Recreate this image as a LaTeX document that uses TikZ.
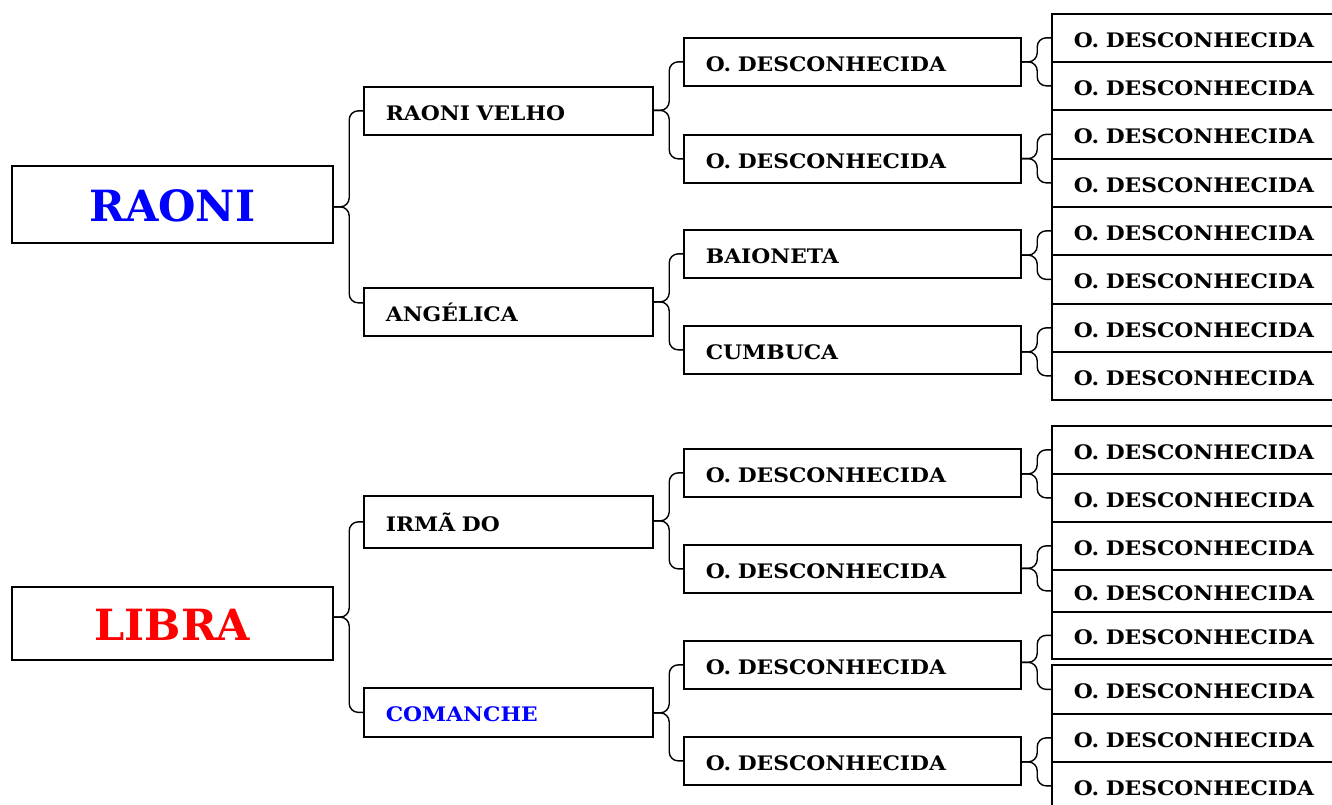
\documentclass[tikz,border=0pt]{standalone}
\usepackage{fontspec}
\setmainfont[FakeStretch=1.09]{DejaVu Serif}
\newfontfamily\rootfont{DejaVu Serif}
\usetikzlibrary{calc}
\definecolor{pblue}{RGB}{0,0,255}
\definecolor{pred}{RGB}{255,0,0}
\tikzset{
 gbox/.style={draw, line width=1.7pt, anchor=north west, inner xsep=22pt, inner ysep=0pt, align=left, font=\bfseries\fontsize{20}{20}\selectfont, text height=18.6pt, text depth=0pt},
 l2/.style={gbox, text width=245pt, minimum height=48pt},
 l3/.style={gbox, text width=293pt, minimum height=48pt},
 l4/.style={gbox, text width=260pt},
 root/.style={draw, line width=1.7pt, anchor=north west, minimum width=321pt, inner sep=0pt, font=\rootfont\bfseries\fontsize{43}{43}\selectfont, text height=35pt, text depth=0pt},
 brc/.style={draw, line width=1.4pt, rounded corners=9pt},
}
\newcommand\fambrace[3]{%
 \coordinate (tmpm) at ($(#2)!0.5!(#3)$);
 \draw[brc] (#1.east |- tmpm) -- ++(15.5,0) |- (#2);
 \draw[brc] (#1.east |- tmpm) -- ++(15.5,0) |- (#3);
}
\begin{document}
\begin{tikzpicture}[x=1pt,y=-1pt]
\clip (0,0) rectangle (1332,804);
\fill[white] (0,0) rectangle (1332,804);
% top family
\node[root, minimum height=77pt, text=pblue] (raoni) at (11,165) {RAONI};
\node[l2] (rv) at (363,86) {RAONI VELHO};
\node[l2] (ang) at (363,287) {ANGÉLICA};
\node[l3] (a1) at (683,37) {O. DESCONHECIDA};
\node[l3] (a2) at (683,134) {O. DESCONHECIDA};
\node[l3] (a3) at (683,229) {BAIONETA};
\node[l3] (a4) at (683,325) {CUMBUCA};
\node[l4, minimum height=48pt] (t1) at (1051,13) {O. DESCONHECIDA};
\node[l4, minimum height=48pt] (t2) at (1051,61) {O. DESCONHECIDA};
\node[l4, minimum height=49pt] (t3) at (1051,109) {O. DESCONHECIDA};
\node[l4, minimum height=48pt] (t4) at (1051,158) {O. DESCONHECIDA};
\node[l4, minimum height=48pt] (t5) at (1051,206) {O. DESCONHECIDA};
\node[l4, minimum height=49pt] (t6) at (1051,254) {O. DESCONHECIDA};
\node[l4, minimum height=48pt] (t7) at (1051,303) {O. DESCONHECIDA};
\node[l4, minimum height=48pt] (t8) at (1051,351) {O. DESCONHECIDA};
% bottom family
\node[root, minimum height=73pt, text=pred] (libra) at (11,586) {LIBRA};
\node[l2, minimum height=52pt] (irma) at (363,495) {IRMÃ DO};
\node[l2, minimum height=49pt, text=pblue] (com) at (363,687) {COMANCHE};
\node[l3] (b1) at (683,448) {O. DESCONHECIDA};
\node[l3] (b2) at (683,544) {O. DESCONHECIDA};
\node[l3] (b3) at (683,640) {O. DESCONHECIDA};
\node[l3] (b4) at (683,736) {O. DESCONHECIDA};
\node[l4, minimum height=48pt] (u1) at (1051,425) {O. DESCONHECIDA};
\node[l4, minimum height=48pt] (u2) at (1051,473) {O. DESCONHECIDA};
\node[l4, minimum height=48pt] (u3) at (1051,521) {O. DESCONHECIDA};
\node[l4, minimum height=42pt] (u4) at (1051,569) {O. DESCONHECIDA};
\node[l4, minimum height=47pt] (u5) at (1051,611) {O. DESCONHECIDA};
\node[l4, minimum height=49pt] (u6) at (1051,664) {O. DESCONHECIDA};
\node[l4, minimum height=48pt] (u7) at (1051,713) {O. DESCONHECIDA};
\node[l4, minimum height=48pt] (u8) at (1051,761) {O. DESCONHECIDA};
% braces
\fambrace{raoni}{rv.west}{[yshift=9pt]ang.west}
\fambrace{rv}{a1.west}{a2.west}
\fambrace{ang}{a3.west}{a4.west}
\fambrace{a1}{t1.west}{t2.west}
\fambrace{a2}{t3.west}{t4.west}
\fambrace{a3}{t5.west}{t6.west}
\fambrace{a4}{t7.west}{t8.west}
\fambrace{libra}{irma.west}{com.west}
\fambrace{irma}{b1.west}{b2.west}
\fambrace{com}{b3.west}{b4.west}
\fambrace{b1}{u1.west}{u2.west}
\fambrace{b2}{u3.west}{u4.west}
\fambrace{b3}{u5.west}{u6.west}
\fambrace{b4}{u7.west}{u8.west}
\end{tikzpicture}
\end{document}
